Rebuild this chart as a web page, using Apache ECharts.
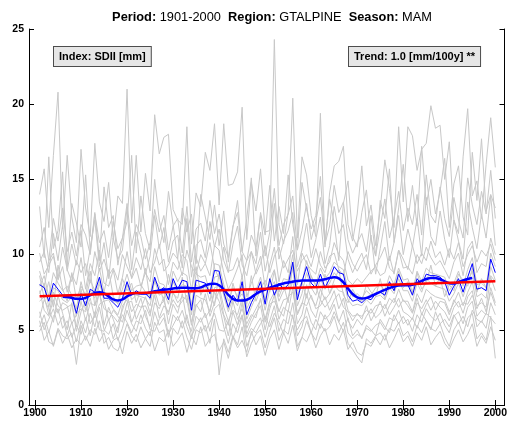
<!DOCTYPE html>
<html>
<head>
<meta charset="utf-8">
<script src="https://cdn.jsdelivr.net/npm/echarts@6/dist/echarts.min.js"></script>
<style>
  html, body { margin: 0; padding: 0; background: #fff; }
  #chart { width: 510px; height: 423px; }
</style>
</head>
<body>
<div id="chart"></div>
<script>
// station series (grey), one value per year 1901-2000
const firstYear = 1901;
const st01 = [14.0,15.7,11.8,16.6,20.8,11.7,16.6,12.5,10.8,17.0, 13.1,11.2,17.4,13.5,12.2,14.8,11.0,13.9,13.4,21.0, 12.1,16.6,11.5,15.4,12.9,19.3,16.7,17.8,18.0,13.0, 12.3,12.0,18.5,10.7,14.1,13.2,16.8,15.6,18.7,13.3, 18.7,14.6,14.7,15.5,19.8,11.0,14.8,12.9,15.7,11.5, 11.6,24.3,12.0,10.7,12.8,20.4,11.1,16.5,15.3,12.6, 11.2,19.4,10.5,14.1,15.9,16.2,17.2,12.0,10.9,12.7, 15.9,11.9,13.3,10.6,13.0,16.3,14.4,11.8,18.5,13.5, 18.5,17.9,15.6,17.0,17.4,19.9,18.4,18.6,15.0,17.5, 12.3,11.4,16.5,19.7,13.9,14.9,12.4,16.0,19.1,15.8];
const st02 = [13.2,9.8,16.5,10.4,11.6,15.5,9.2,13.4,12.1,10.5, 15.3,10.2,12.8,9.6,14.5,11.8,12.6,9.3,11.1,12.2, 16.6,10.1,13.9,11.4,10.3,15.0,12.3,10.8,14.2,12.0, 9.7,13.1,11.5,12.7,9.4,14.0,12.5,11.0,13.3,10.6, 12.9,9.5,11.8,13.6,10.2,12.4,15.1,9.9,12.8,11.3, 14.6,10.9,13.2,11.4,15.3,12.0,10.3,14.8,13.0,11.7, 12.6,15.2,10.8,13.7,12.1,9.6,13.4,14.9,11.2,10.5, 12.8,14.3,11.0,9.9,13.6,12.4,15.7,10.8,13.1,16.0, 12.2,14.6,11.9,17.2,13.3,15.0,12.7,14.2,16.4,11.8, 14.7,15.9,12.5,11.3,16.8,13.6,17.7,12.9,14.0,13.1];
const st03 = [9.5,10.2,8.8,11.4,9.6,12.0,8.9,10.7,9.3,11.6, 8.6,10.4,12.3,9.2,10.8,8.4,11.1,9.7,10.3,13.1, 9.0,11.5,10.1,8.7,9.9,12.6,10.4,11.8,9.5,10.9, 11.3,9.1,12.4,8.5,10.6,11.0,9.8,12.2,10.5,11.7, 9.6,8.8,10.7,11.9,9.3,8.6,10.2,9.4,11.5,8.9, 10.4,13.4,9.7,10.9,11.6,12.8,9.2,10.3,12.1,9.8, 11.0,12.5,9.4,10.6,13.2,11.4,12.0,9.7,8.8,9.5, 10.1,9.0,11.3,8.7,10.4,12.2,9.6,10.8,12.6,10.0, 11.7,10.5,12.4,9.9,13.8,11.2,10.6,12.9,11.0,9.8, 12.3,10.9,9.7,13.5,11.8,10.4,12.7,11.1,13.9,10.6];
const st04 = [8.9,7.8,9.6,10.1,8.3,9.2,7.5,8.7,8.0,9.8, 7.7,9.4,8.6,10.3,8.1,7.9,9.0,7.4,8.5,10.2, 8.4,9.1,7.9,8.8,8.2,10.4,9.3,9.7,8.0,9.5, 9.0,10.0,9.6,7.6,9.8,8.9,9.4,8.6,10.6,10.3, 8.8,7.7,8.3,9.1,10.0,7.2,8.1,8.9,9.9,7.8, 9.3,10.5,8.2,9.6,8.8,11.2,8.0,10.1,9.4,9.0, 8.7,10.2,9.1,9.5,10.8,10.0,9.6,8.3,8.0,8.4, 8.1,8.5,8.9,9.2,8.6,8.8,9.9,8.7,10.3,9.1, 9.2,8.7,10.0,9.4,10.5,9.8,9.3,9.6,9.0,8.4, 9.5,10.1,8.6,10.4,10.9,8.8,9.4,9.2,11.1,10.0];
const st05 = [7.9,8.6,7.2,8.8,8.1,7.6,7.9,7.3,6.4,8.2, 7.0,8.3,7.6,9.1,7.5,7.4,6.9,6.8,7.7,8.7, 7.6,7.9,8.0,7.5,7.2,9.2,8.1,8.0,7.3,8.9, 8.2,8.8,8.6,6.6,8.7,8.5,8.6,7.4,9.4,9.3, 8.0,6.9,7.8,7.2,8.6,6.4,7.1,7.6,8.5,7.0, 8.3,9.0,7.5,8.4,8.3,10.0,7.3,8.1,9.6,8.5, 8.0,9.1,8.4,8.8,9.5,9.2,9.0,7.7,7.2,7.4, 7.1,7.6,7.3,7.8,8.0,7.6,8.6,8.0,9.1,8.3, 8.4,7.5,8.9,8.2,9.1,8.8,8.7,8.6,8.5,7.6, 8.1,8.9,7.9,9.0,9.8,8.0,8.1,7.8,10.1,9.2];
const st06 = [7.4,8.1,6.5,7.8,7.6,7.0,6.8,7.2,5.9,7.7, 6.3,7.6,7.1,8.2,6.9,7.0,6.4,6.0,6.9,8.0, 7.0,7.3,7.2,7.1,6.6,8.3,7.3,7.5,6.7,8.2, 7.5,8.0,7.9,6.0,8.0,7.7,7.9,6.9,8.5,8.6, 7.3,6.2,7.1,6.6,7.9,5.7,6.5,7.2,7.8,6.3, 7.7,8.2,6.9,7.6,7.8,9.1,6.6,7.4,8.8,7.8, 7.3,8.4,7.7,8.1,8.8,8.4,8.3,7.0,6.6,6.7, 6.6,7.0,6.7,7.2,7.3,7.0,7.8,7.4,8.4,7.6, 7.6,6.9,8.1,7.5,8.4,8.1,7.9,7.8,7.7,6.9, 7.4,8.1,7.2,8.2,8.9,7.2,7.4,7.1,9.2,8.3];
const st07 = [6.9,7.2,6.0,7.5,6.6,6.3,6.5,6.7,5.2,6.9, 5.6,6.8,6.6,7.4,6.4,6.2,5.9,5.5,6.3,7.3, 6.2,6.7,6.5,6.6,5.9,7.6,6.6,6.9,6.0,7.5, 6.8,7.2,7.0,5.3,7.3,7.1,7.0,6.2,7.8,7.9, 6.5,5.6,6.3,6.0,7.1,5.1,5.8,6.4,7.0,5.7, 6.9,7.5,6.2,7.0,7.1,8.3,6.0,6.7,8.0,7.1, 6.6,7.7,7.0,7.4,8.0,7.6,7.5,6.3,5.9,6.0, 5.9,6.3,6.1,6.6,6.7,6.4,7.1,6.8,7.7,6.9, 6.9,6.2,7.4,6.8,7.7,7.4,7.2,7.1,7.0,6.2, 6.8,7.5,6.6,7.5,8.2,6.6,6.8,6.5,8.5,7.6];
const st08 = [5.8,7.0,6.4,5.5,7.3,6.1,5.0,6.8,4.9,6.2, 6.9,5.4,6.0,7.6,5.3,6.5,5.7,4.8,6.6,7.0, 5.5,6.3,7.1,5.9,5.2,6.8,6.4,7.2,5.4,6.7, 6.1,7.4,5.6,4.9,6.6,7.0,5.8,6.3,7.5,6.9, 5.9,4.6,6.2,5.3,6.8,4.7,5.5,6.1,6.6,5.0, 6.4,7.3,5.7,6.5,6.2,7.8,5.4,6.0,7.4,6.3, 5.8,7.0,6.5,6.9,7.6,6.4,7.1,5.6,5.1,5.7, 5.3,5.9,6.4,5.8,6.1,6.7,6.0,6.5,7.1,6.2, 6.0,5.7,6.8,6.4,7.0,6.3,6.9,6.5,6.2,5.6, 6.5,6.9,6.1,7.2,7.6,5.9,6.3,6.0,7.8,6.8];
const st09 = [6.2,5.0,5.7,6.4,5.3,5.9,4.6,5.5,4.2,5.6, 4.8,6.1,5.2,6.5,5.0,4.7,5.4,4.3,5.1,6.3, 5.4,4.9,6.0,5.1,4.6,6.2,5.3,5.8,4.5,6.0, 5.6,6.3,5.2,4.4,5.9,5.5,6.1,4.9,6.4,6.7, 5.2,4.1,5.4,4.8,5.9,3.9,4.7,5.3,5.8,4.5, 5.6,6.6,4.9,5.7,5.4,6.8,4.6,5.2,6.5,5.5, 5.0,6.2,5.7,6.0,6.7,5.5,6.3,4.8,4.4,4.7, 4.5,5.1,4.9,5.3,5.5,5.0,5.8,5.6,6.3,5.4, 5.7,4.9,6.0,5.5,6.4,5.9,5.6,6.1,5.3,4.8, 5.9,6.2,5.4,6.5,6.9,5.2,5.6,5.1,6.8,6.0];
const st10 = [4.9,5.5,4.2,4.0,5.1,4.6,4.4,4.8,2.7,5.3, 4.3,5.0,4.7,5.6,4.1,4.5,3.8,3.6,4.4,5.4, 4.6,4.2,5.2,4.4,3.9,5.5,4.8,5.0,3.3,5.1, 4.7,5.6,4.5,3.7,5.0,4.8,5.3,4.1,5.7,2.0, 4.4,3.5,4.6,4.0,5.2,3.2,4.1,4.7,5.0,3.8, 4.9,5.8,4.3,5.0,4.7,6.0,3.9,4.5,5.6,4.8, 4.3,5.4,4.9,5.2,5.9,4.8,5.5,4.1,3.7,3.2, 2.8,4.4,4.1,4.6,4.8,4.3,5.1,4.9,5.5,4.6, 4.9,4.2,5.3,4.8,5.6,5.1,4.9,5.4,4.5,3.9, 5.0,5.5,4.7,5.8,6.1,4.4,4.8,4.3,5.9,3.1];
const st11 = [7.6,6.3,5.9,7.0,6.1,6.8,6.6,5.4,6.0,6.4, 6.2,7.1,5.8,6.7,6.9,5.6,6.3,5.9,5.5,6.8, 6.9,5.7,6.4,7.2,6.1,7.3,5.8,6.6,6.2,7.0, 6.5,6.9,7.3,5.5,6.7,6.2,7.4,5.9,6.8,7.6, 6.0,5.3,6.9,5.7,6.4,5.4,6.0,5.8,7.1,5.5, 6.7,6.9,6.3,5.9,7.2,7.5,6.1,6.8,6.6,7.3, 6.4,6.6,7.2,6.3,7.0,7.4,6.5,6.2,5.6,6.1, 5.7,6.6,5.6,6.2,6.9,5.9,6.6,7.1,6.5,7.0, 6.6,6.1,7.1,6.0,6.7,7.2,6.3,6.9,6.8,6.0, 7.0,6.5,6.8,6.7,7.3,6.4,7.1,6.2,7.5,6.6];
const st12 = [10.1,8.7,9.3,9.9,8.4,10.5,9.0,8.2,9.6,8.8, 9.4,8.1,10.2,8.9,9.7,8.6,9.1,8.3,10.0,9.2, 8.5,9.8,9.0,10.4,8.8,9.5,10.7,8.9,9.3,10.1, 9.7,8.6,10.3,9.2,8.7,10.0,9.4,10.8,9.1,8.4, 10.5,8.9,9.0,9.8,8.5,9.6,10.2,8.7,9.4,10.6, 8.8,9.9,10.5,9.1,9.7,10.3,8.9,9.6,10.0,9.2, 10.4,9.3,8.8,9.9,10.1,9.0,8.6,10.2,9.4,8.9, 9.5,10.0,8.7,9.3,9.8,10.5,9.1,8.8,10.3,9.7, 9.0,10.6,9.4,10.1,9.6,10.9,9.8,10.2,9.3,10.4, 9.7,10.8,9.2,10.0,10.6,9.5,10.3,9.9,10.7,9.6];
const st13 = [5.2,6.0,4.8,5.9,6.4,5.1,5.6,4.5,5.3,4.7, 5.8,4.6,6.2,5.0,4.9,5.7,4.4,5.2,6.0,5.5, 4.8,5.6,5.4,6.3,5.0,4.9,5.7,6.1,4.7,5.3, 5.9,5.1,6.0,4.6,5.2,5.8,4.9,5.5,6.1,5.0, 4.9,5.6,4.4,5.3,6.0,4.5,5.1,4.8,5.4,5.9, 5.2,6.1,5.5,4.7,6.3,5.8,5.0,5.6,5.9,4.8, 5.7,5.1,6.0,5.4,6.2,5.5,4.9,5.8,4.6,5.0, 4.4,5.3,5.0,4.6,5.7,5.2,4.8,6.0,5.4,5.9, 5.3,5.8,5.1,6.1,5.6,5.0,6.2,5.4,5.7,5.2, 6.0,5.4,5.9,5.2,6.3,5.7,5.5,6.1,5.8,5.4];
const st14 = [8.6,7.1,8.2,6.5,9.3,7.7,6.9,8.8,7.0,7.9, 7.3,8.9,6.6,8.0,7.5,9.0,7.2,6.7,8.4,7.6, 8.1,6.8,7.7,9.1,7.0,8.3,7.9,6.9,8.7,7.4, 7.1,8.5,6.8,7.6,9.2,7.3,8.0,7.5,6.6,8.8, 7.8,6.4,8.1,7.0,7.4,6.7,8.6,6.9,7.7,8.3, 7.5,8.9,7.2,8.0,6.8,9.4,7.6,8.2,7.1,8.6, 7.9,7.0,8.7,7.4,8.3,9.0,7.3,6.8,7.7,7.1, 6.9,8.0,7.5,7.2,8.4,7.0,8.1,7.6,8.9,7.8, 8.2,7.4,8.8,7.7,8.1,9.3,7.9,8.5,7.2,8.0, 7.6,8.7,8.3,7.9,9.1,7.5,8.4,7.8,8.6,8.2];
const st15 = [5.6,4.3,4.9,3.9,5.0,4.1,4.7,3.8,4.4,4.0, 4.6,3.9,5.1,4.2,4.8,3.7,4.3,4.5,3.4,4.9, 4.1,4.7,3.8,4.4,4.9,3.6,4.5,4.2,5.0,3.9, 4.3,4.8,3.5,4.6,4.0,5.2,3.9,4.4,4.7,3.6, 4.2,3.1,4.5,3.8,4.3,3.5,4.9,4.0,4.6,3.3, 4.4,5.0,3.7,4.8,4.1,5.3,3.6,4.5,4.2,4.9, 3.8,4.6,5.1,4.0,4.7,4.3,5.0,3.7,4.2,3.5, 3.3,4.1,3.9,4.5,4.0,4.7,3.8,4.4,5.1,4.2, 4.6,3.9,4.8,4.3,5.2,4.0,4.5,4.9,4.1,3.7, 4.4,5.0,4.2,4.7,5.4,3.9,4.6,4.1,5.2,4.3];
const st16 = [10.5,11.8,9.6,12.4,10.9,13.1,10.2,11.5,9.9,12.0, 11.3,10.0,12.7,10.8,11.6,9.8,12.2,10.4,11.1,13.4, 10.6,12.0,11.2,9.7,10.8,13.0,11.5,12.6,10.3,11.9, 12.4,10.1,13.2,9.5,11.7,12.1,10.9,13.6,11.4,12.7, 10.7,9.8,11.9,12.8,10.2,9.6,11.3,10.5,12.6,9.9, 11.5,14.4,10.6,12.0,12.7,13.9,10.3,11.6,13.4,11.0, 12.2,13.8,10.7,11.9,14.6,12.8,13.5,11.0,10.1,10.8, 11.4,10.2,12.6,9.9,11.8,13.7,11.1,12.4,14.2,11.6, 13.1,12.0,14.0,11.3,15.3,12.6,12.1,14.5,12.4,11.2, 13.8,12.3,11.1,15.1,13.3,12.0,14.2,12.7,15.6,12.4];
const stations = [st01, st02, st03, st04, st05, st06, st07, st08, st09, st10, st11, st12, st13, st14, st15, st16];

// regional mean (blue), 1901-2000
const regional = [8.0,7.8,6.9,8.1,7.7,7.3,7.3,7.2,6.1,7.4, 6.6,7.7,7.5,8.5,7.1,7.1,6.8,6.5,7.1,8.2, 7.3,7.6,7.4,7.4,7.1,8.5,7.6,7.8,7.0,8.4, 7.7,8.3,8.2,6.3,8.3,8.2,8.1,7.4,8.95,8.9, 7.5,6.5,7.3,6.9,8.2,6.0,6.8,7.4,8.2,6.7, 8.4,7.3,8.1,7.7,8.0,9.5,7.0,8.2,9.2,8.1, 7.8,8.7,7.8,8.4,9.2,8.8,8.7,7.3,6.9,7.0, 6.8,7.1,7.0,7.4,7.5,7.3,8.2,7.6,8.7,8.0, 8.0,7.3,8.4,8.0,8.7,8.6,8.6,8.5,8.2,7.3, 7.9,8.4,7.5,8.5,9.4,7.7,7.8,7.6,9.7,8.8];

// smoothed regional mean, 1906-1995
const smoothStart = 1906;
const smooth = [7.2,7.18,7.12,7.06,7.05,7.12,7.3,7.45,7.5,7.42, 7.22,7.02,6.95,7.02,7.22,7.38,7.44,7.42,7.42,7.48, 7.56,7.62,7.66,7.7,7.75,7.78,7.8,7.8,7.76,7.76, 7.82,7.95,8.04,8.06,7.96,7.68,7.32,7.06,6.95,6.94, 7.0,7.16,7.38,7.55,7.68,7.8,7.9,8.0,8.08,8.14, 8.2,8.24,8.27,8.28,8.28,8.28,8.3,8.36,8.45,8.5, 8.42,8.15,7.75,7.38,7.15,7.08,7.12,7.24,7.38,7.52, 7.66,7.78,7.88,7.95,7.96,7.96,8.0,8.1,8.25,8.38, 8.45,8.44,8.36,8.22,8.1,8.08,8.16,8.28,8.38,8.44];

// linear trend end points
const trendYears = [1901, 2000];
const trendValues = [7.23, 8.23];

const xTicks = [1900, 1910, 1920, 1930, 1940, 1950, 1960, 1970, 1980, 1990, 2000];
const indexText = 'Index: SDII [mm]';
const trendText = 'Trend: 1.0 [mm/100y] **';

const font = '"Liberation Sans", Arial, Helvetica, sans-serif';

function pairs(start, vals) {
    return vals.map((v, i) => [start + i, v]);
}

const chart = echarts.init(document.getElementById('chart'));

const series = [];
stations.forEach((s) => {
    series.push({
        type: 'line', data: pairs(firstYear, s), symbol: 'none',
        lineStyle: { color: '#c8c8c8', width: 1 }, z: 1, silent: true
    });
});
series.push({
    type: 'line', data: pairs(firstYear, regional), symbol: 'none',
    lineStyle: { color: '#0000ff', width: 1 }, z: 3
});
series.push({
    type: 'line', data: pairs(smoothStart, smooth), symbol: 'none', smooth: 0.3,
    lineStyle: { color: '#0000ff', width: 2.5 }, z: 4
});
series.push({
    type: 'line', data: trendYears.map((y, i) => [y, trendValues[i]]), symbol: 'none',
    lineStyle: { color: '#ff0000', width: 2.5 }, z: 5
});

const boxAxis = {
    min: 1898.7, max: 2002, type: 'value',
    axisLine: { lineStyle: { color: '#000', width: 1 } },
    splitLine: { show: false }
};

const options = {
    animation: false,
    backgroundColor: '#fff',
    title: {
        text: '{b|Period:} 1901-2000  {b|Region:} GTALPINE  {b|Season:} MAM',
        left: 267, top: 6, textAlign: 'center',
        textStyle: {
            fontFamily: font, fontSize: 12.8, fontWeight: 'normal', color: '#000',
            rich: { b: { fontFamily: font, fontSize: 12.8, fontWeight: 'bold', color: '#000' } }
        }
    },
    grid: { left: 29, right: 5, top: 29, bottom: 18 },
    xAxis: [
        Object.assign({}, boxAxis, {
            position: 'bottom',
            axisTick: { inside: true, length: 5, customValues: xTicks, lineStyle: { color: '#000' } },
            axisLabel: {
                customValues: xTicks, margin: 3, color: '#000',
                fontFamily: font, fontSize: 10.5, fontWeight: 'bold',
                formatter: (v) => String(v)
            }
        }),
        Object.assign({}, boxAxis, {
            position: 'top',
            axisTick: { inside: true, length: 5, customValues: xTicks, lineStyle: { color: '#000' } },
            axisLabel: { show: false }
        })
    ],
    yAxis: [
        {
            type: 'value', min: 0, max: 25, interval: 5, position: 'left',
            axisLine: { show: true, lineStyle: { color: '#000', width: 1 } },
            axisTick: { show: true, inside: true, length: 5, lineStyle: { color: '#000' } },
            axisLabel: { margin: 5, color: '#000', fontFamily: font, fontSize: 10.5, fontWeight: 'bold' },
            splitLine: { show: false }
        },
        {
            type: 'value', min: 0, max: 25, interval: 5, position: 'right',
            axisLine: { show: true, lineStyle: { color: '#000', width: 1 } },
            axisTick: { show: true, inside: true, length: 5, lineStyle: { color: '#000' } },
            axisLabel: { show: false },
            splitLine: { show: false }
        }
    ],
    graphic: [
        {
            type: 'text', left: 53, top: 46, z: 10,
            style: {
                text: indexText, fill: '#000', font: 'bold 11px ' + font,
                backgroundColor: '#e6e6e6', borderColor: '#4d4d4d', borderWidth: 1,
                padding: [4, 5, 4, 5]
            }
        },
        {
            type: 'text', left: 348, top: 46, z: 10,
            style: {
                text: trendText, fill: '#000', font: 'bold 11px ' + font,
                backgroundColor: '#e6e6e6', borderColor: '#4d4d4d', borderWidth: 1,
                padding: [4, 5, 4, 5]
            }
        }
    ],
    series: series
};

chart.setOption(options);
</script>
</body>
</html>
